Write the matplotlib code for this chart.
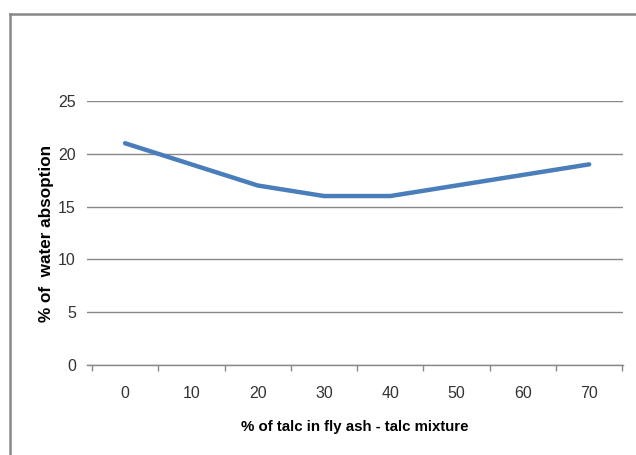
import matplotlib.pyplot as plt
from matplotlib.lines import Line2D

talc_pct = ["0", "10", "20", "30", "40", "50", "60", "70"]
water_abs = [21, 19, 17, 16, 16, 17, 18, 19]
y_ticks = [0, 5, 10, 15, 20, 25]

W, H = 636, 455
fig = plt.figure(figsize=(W / 100, H / 100), dpi=100)
fig.patch.set_facecolor("white")

# plot area in pixel coords
left, right, top, bottom = 87, 623, 101, 365
ax = fig.add_axes([left / W, 1 - bottom / H, (right - left) / W, (bottom - top) / H])

x = list(range(len(talc_pct)))
ax.plot(x, water_abs, color="#4a7ebb", lw=3.2, solid_capstyle="round")

ax.set_xlim(-0.574, 7.51)
ax.set_ylim(0, 25)
ax.set_yticks(y_ticks)
ax.set_yticklabels([str(v) for v in y_ticks])
ax.set_xticks(x)
ax.set_xticklabels(talc_pct)
ax.set_xticks([i - 0.5 for i in range(len(talc_pct) + 1)], minor=True)

ax.grid(axis="y", color="#888888", lw=1.0)
ax.set_axisbelow(True)
for s in ["top", "right", "left"]:
    ax.spines[s].set_visible(False)
ax.spines["bottom"].set_color("#888888")
ax.spines["bottom"].set_linewidth(1.0)

ax.tick_params(axis="y", length=0, pad=8, labelsize=11.5, labelcolor="#333333")
ax.tick_params(axis="x", which="major", length=0, pad=15, labelsize=11.5, labelcolor="#333333")
ax.tick_params(axis="x", which="minor", length=4, width=1.0, color="#888888")

for lab in ax.get_xticklabels() + ax.get_yticklabels():
    lab.set_fontfamily("Liberation Sans")

ax.set_xlabel("% of talc in fly ash - talc mixture", fontsize=10.8, fontweight="bold",
              family="Liberation Sans", labelpad=14)
ax.set_ylabel("% of  water absoption", fontsize=12.3, fontweight="bold",
              family="Liberation Sans", labelpad=3)

# outer chart border (only left and top visible)
fig.add_artist(Line2D([9.5 / W, 9.5 / W], [0, 1 - 14 / H], transform=fig.transFigure,
                      color="#888888", lw=1.8))
fig.add_artist(Line2D([9.5 / W, 1], [1 - 14 / H, 1 - 14 / H], transform=fig.transFigure,
                      color="#888888", lw=1.8))

fig.savefig("out.png", dpi=100, facecolor="white")
